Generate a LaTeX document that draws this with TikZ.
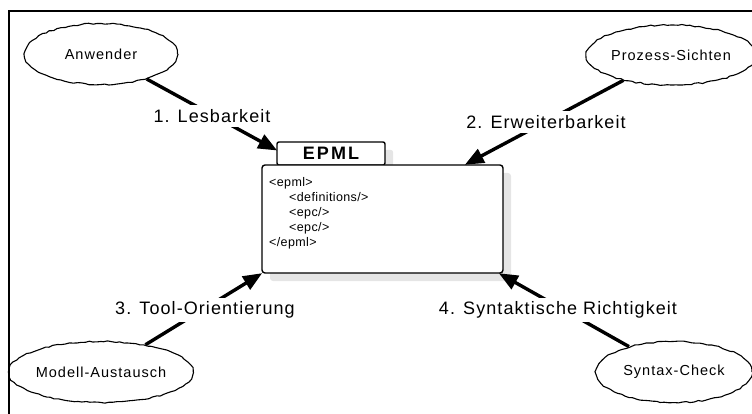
\documentclass[tikz,border=0pt]{standalone}
\usepackage{fontspec}
\setmainfont{Liberation Sans}
\newfontfamily\lblfont[LetterSpace=6]{Liberation Sans}
\newfontfamily\ellfont[LetterSpace=7]{Liberation Sans}
\newfontfamily\epmlfont[LetterSpace=12]{Liberation Sans Bold}
\newfontfamily\codefont[LetterSpace=3]{Liberation Sans}
\usetikzlibrary{arrows.meta,decorations.pathmorphing,shapes.geometric,shadows}
\pgfmathsetseed{7}
\begin{document}
\begin{tikzpicture}[x=1pt,y=-1pt,
  cloudnode/.style={draw,line width=1.1pt,ellipse,inner sep=0pt,
    minimum width=153pt,minimum height=61pt,
    decorate,decoration={random steps,segment length=4pt,amplitude=0.7pt},
    font=\ellfont\fontsize{14.5}{16}\selectfont},
  lbl/.style={fill=white,inner sep=4pt,font=\lblfont\fontsize{18}{20}\selectfont},
  conn/.style={line width=3.4pt,-{Triangle[length=19pt,width=15pt]},shorten >=-1pt},
  codeline/.style={anchor=base west,inner sep=0pt,font=\codefont\fontsize{12.5}{15}\selectfont},
  boxshadow/.style={drop shadow={shadow xshift=8pt,shadow yshift=-8pt,fill=black!10,opacity=1}}
]
\useasboundingbox (0,0) rectangle (752,414);
% outer frame (cut off at right and bottom)
\draw[line width=1.5pt] (9,420) -- (9,11) -- (760,11);

% ellipses
\node[cloudnode] (anw) at (101,54) {Anwender};
\node[cloudnode,minimum width=152pt,minimum height=60pt] (proz) at (671,55) {Prozess-Sichten};
\node[cloudnode,minimum width=152pt] (mod) at (101,372) {Modell-Austausch};
\node[cloudnode,minimum width=156pt] (syn) at (674,372) {Syntax-Check};

% EPML document
\node[draw,line width=1.4pt,rounded corners=2pt,fill=white,boxshadow,
  minimum width=108pt,minimum height=23pt,inner sep=0pt,
  font=\epmlfont\fontsize{18}{20}\selectfont] (tab) at (331,153.5) {EPML};
\node[draw,line width=1.4pt,rounded corners=3pt,fill=white,boxshadow,
  minimum width=241pt,minimum height=108pt,inner sep=0pt] (box) at (382.5,219) {};
\node[codeline] (c1) at (269,187) {<epml>};
\node[codeline] (c2) at (289,202) {<definitions/>};
\node[codeline] (c3) at (289,217) {<epc/>};
\node[codeline] (c4) at (289,232) {<epc/>};
\node[codeline] (c5) at (269,247) {</epml>};

\coordinate (t1) at ([yshift=3.5pt]tab.west);
\coordinate (t2) at ([xshift=-38pt]box.north east);

% connectors
\draw[conn] (anw) -- (t1);
\draw[conn] (proz) -- (t2);
\draw[conn] (mod) -- (box.south west);
\draw[conn] (syn) -- ([xshift=-4pt]box.south east);

% labels
\node[lbl] (l1) at (212,116) {1. Lesbarkeit};
\node[lbl] (l2) at (546,122) {2. Erweiterbarkeit};
\node[lbl] (l3) at (205,310) {3. Tool-Orientierung};
\node[lbl] (l4) at (558,310) {4. Syntaktische Richtigkeit};
\end{tikzpicture}
\end{document}
